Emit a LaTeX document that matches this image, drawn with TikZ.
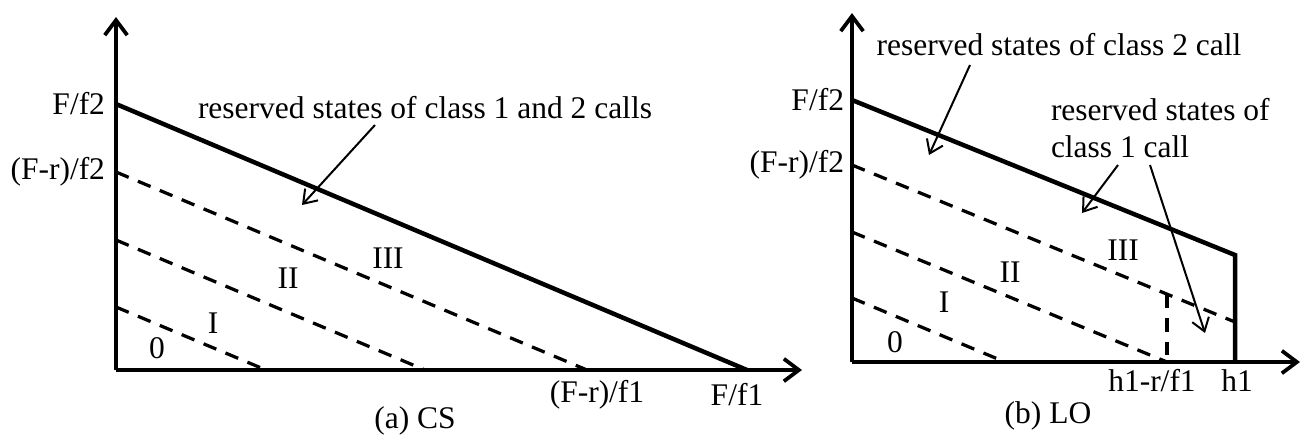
\documentclass[tikz,border=0pt]{standalone}
\usepackage{fontspec}
\setmainfont{Liberation Serif}
\usetikzlibrary{arrows.meta,positioning}
\tikzset{
  >=Stealth,
  ax/.style={-{Straight Barb[length=6pt,width=9pt]}, line width=1.5pt},
  bnd/.style={line width=1.8pt},
  lvl/.style={dash pattern=on 5.5pt off 4pt, line width=1.3pt},
  note/.style={-{Straight Barb[length=5pt,width=7pt]}, line width=0.8pt},
  lbl/.style={font=\fontsize{12.6}{14.8}\selectfont, inner sep=1pt}
}
\begin{document}
\begin{tikzpicture}[x=0.4pt,y=-0.4pt]
    \useasboundingbox (0,0) rectangle (1302,435);

    % === Left panel: (a) CS ===
    \coordinate (o1) at (116,370);
    \coordinate (y1) at (116,17);
    \coordinate (x1) at (802,370);
    \draw[ax] (o1) -- (y1);
    \draw[ax] (o1) -- (x1);

    % axis labels
    \node[lbl, anchor=east] (ff2a) at (108,104) {F/f2};
    \node[lbl, anchor=east] (frf2a) at (108,172) {(F-r)/f2};
    \node[lbl] (frf1a) at (597,395) {(F-r)/f1};
    \node[lbl] (ff1a) at (737,395) {F/f1};

    % boundary and level lines
    \draw[bnd] (116,104) -- (747,370);
    \foreach \s/\e in {172/587, 240/425, 307/266} {
        \draw[lvl] (116,\s) -- (\e,370);
    }

    % region labels
    \node[lbl] (r0a) at (157,348) {0};
    \node[lbl] (r1a) at (213,323) {I};
    \node[lbl] (r2a) at (288,278) {II};
    \node[lbl] (r3a) at (388,258) {III};

    % annotation
    \node[lbl, anchor=west] (resa) at (195,108) {reserved states of class 1 and 2 calls};
    \coordinate (resa1) at (375,125);
    \coordinate (resa2) at (302,205);
    \draw[note] (resa1) -- (resa2);

    \node[lbl] (capa) at (415,421) {(a) CS};

    % === Right panel: (b) LO ===
    \coordinate (o2) at (852,362);
    \coordinate (y2) at (852,13);
    \coordinate (x2) at (1300,362);
    \draw[ax] (o2) -- (y2);
    \draw[ax] (o2) -- (x2);

    % axis labels
    \node[lbl, anchor=east] (ff2b) at (847,100) {F/f2};
    \node[lbl, anchor=east] (frf2b) at (847,165) {(F-r)/f2};
    \node[lbl] (hrb) at (1152,381) {h1-r/f1};
    \node[lbl] (hb) at (1237,381) {h1};

    % boundary and level lines
    \draw[bnd] (852,100) -- (1235,255) -- (1235,362);
    \foreach \s/\e/\y in {165/1235/322, 232/1167/362, 298/1005/362} {
        \draw[lvl] (852,\s) -- (\e,\y);
    }
    \draw[lvl] (1167,294) -- (1167,362);

    % region labels
    \node[lbl] (r0b) at (895,342) {0};
    \node[lbl] (r1b) at (944,302) {I};
    \node[lbl] (r2b) at (1010,272) {II};
    \node[lbl] (r3b) at (1123,250) {III};

    % annotations
    \node[lbl] (res2) at (1059,45) {reserved states of class 2 call};
    \coordinate (res2a) at (970,65);
    \coordinate (res2b) at (929,155);
    \draw[note] (res2a) -- (res2b);

    \node[lbl, anchor=north west, align=left] (res1) at (1048,95) {reserved states of\\class 1 call};
    \coordinate (res1a) at (1118,165);
    \coordinate (res1b) at (1082,213);
    \coordinate (res1c) at (1150,165);
    \coordinate (res1d) at (1205,333);
    \draw[note] (res1a) -- (res1b);
    \draw[note] (res1c) -- (res1d);

    \node[lbl] (capb) at (1048,416) {(b) LO};

\end{tikzpicture}
\end{document}
